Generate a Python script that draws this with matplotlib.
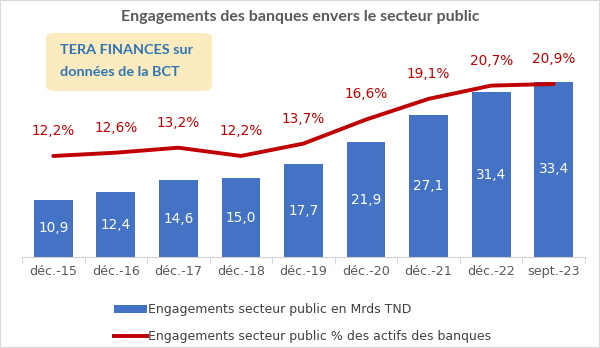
import numpy as np
import matplotlib.pyplot as plt
from matplotlib.patches import FancyBboxPatch, Rectangle, Patch
from matplotlib.lines import Line2D

# Données
periodes = ["déc.-15", "déc.-16", "déc.-17", "déc.-18", "déc.-19",
            "déc.-20", "déc.-21", "déc.-22", "sept.-23"]
encours_mrds = [10.9, 12.4, 14.6, 15.0, 17.7, 21.9, 27.1, 31.4, 33.4]
part_actifs = [12.2, 12.6, 13.2, 12.2, 13.7, 16.6, 19.1, 20.7, 20.9]

bleu   = "#4472C4"
rouge  = "#C00000"
gris   = "#595959"
narrow = ["Lato", "DejaVu Sans"]

W, H = 600, 348
fig = plt.figure(figsize=(W / 100, H / 100), dpi=100)

# zone du graphique en pixels -> fraction de figure
left, right, top, bottom = 22, 585, 60, 257
ax = fig.add_axes([left / W, 1 - bottom / H, (right - left) / W, (bottom - top) / H])
ax2 = ax.twinx()

x = np.arange(len(periodes))
bars = ax.bar(x, encours_mrds, width=0.62, color=bleu, zorder=2)
ax.set_xlim(-0.5, len(periodes) - 0.5)
ax.set_ylim(0, (bottom - top) / 5.24)

for xi, v in zip(x, encours_mrds):
    ax.text(xi, v / 2, f"{v:.1f}".replace(".", ","), ha="center", va="center",
            color="white", fontsize=9.8)

ax2.plot(x, part_actifs, color=rouge, linewidth=2.8, solid_capstyle="round", zorder=3)
ax2.set_ylim(0, (bottom - top) / 8.28)
for xi, v in zip(x, part_actifs):
    ax2.annotate(f"{v:.1f}%".replace(".", ","), (xi, v), xytext=(0, 13),
                 textcoords="offset points", ha="center", va="bottom",
                 color=rouge, fontsize=9.8)

for a in (ax, ax2):
    for s in ("top", "right", "left"):
        a.spines[s].set_visible(False)
    a.set_yticks([])
ax2.spines["bottom"].set_visible(False)
ax.spines["bottom"].set_color("#D0D0D0")

# ticks entre les catégories
ax.set_xticks(x)
ax.set_xticklabels(periodes, color=gris, fontsize=9.2)
ax.tick_params(axis="x", length=0, pad=6)
ax.set_xticks(np.arange(-0.5, len(periodes)), minor=True)
ax.tick_params(axis="x", which="minor", length=5, color="#D0D0D0")

# titre
fig.text(0.5, 1 - 17 / H, "Engagements des banques envers le secteur public",
         ha="center", va="center", fontsize=11.5, fontweight="bold",
         color=gris, family=narrow)

# encadré source
box = FancyBboxPatch((46 / W, 1 - 91 / H), (212 - 46) / W, (91 - 33) / H,
                     boxstyle="round,pad=0,rounding_size=0.015",
                     transform=fig.transFigure, facecolor="#FCEBBE",
                     edgecolor="none", zorder=0)
fig.patches.append(box)
fig.text(60 / W, 1 - 50 / H, "TERA FINANCES sur", ha="left", va="center",
         fontsize=10.4, fontweight="bold", color="#2E75B6", family=narrow)
fig.text(60 / W, 1 - 72 / H, "données de la BCT", ha="left", va="center",
         fontsize=10.4, fontweight="bold", color="#2E75B6", family=narrow)

# légende
handles = [Patch(facecolor=bleu, edgecolor="none"),
           Line2D([0], [0], color=rouge, linewidth=2.8)]
labels = ["Engagements secteur public en Mrds TND",
          "Engagements secteur public % des actifs des banques"]
fig.legend(handles, labels, loc="upper left", bbox_to_anchor=(114 / W, 1 - 303 / H),
           frameon=False, fontsize=9.0, handlelength=2.6, handleheight=0.6,
           handletextpad=0.15, labelspacing=1.15, labelcolor="#404040",
           borderaxespad=0, borderpad=0)

# cadre
fig.patches.append(Rectangle((0, 0), 1, 1, transform=fig.transFigure,
                             fill=False, edgecolor="#D9D9D9", linewidth=1.5))

fig.savefig("out.png", dpi=100)
